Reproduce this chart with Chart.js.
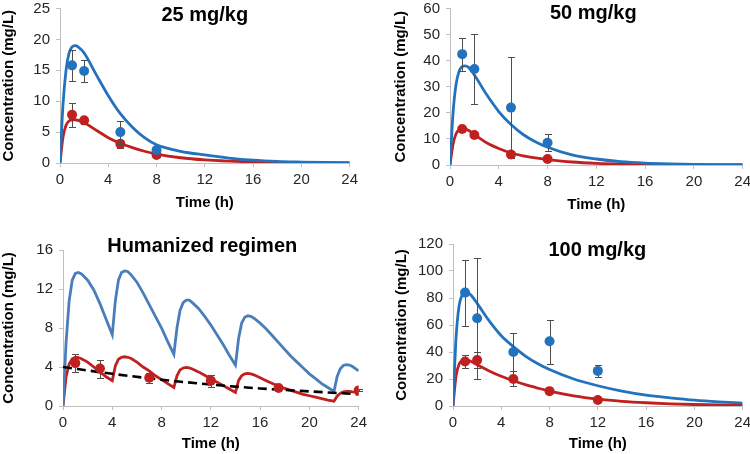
<!DOCTYPE html>
<html>
<head>
<meta charset="utf-8">
<script src="https://cdn.jsdelivr.net/npm/chart.js@4/dist/chart.umd.min.js"></script>
<style>
body { margin: 0; background: #fff; }
#wrap { position: relative; width: 750px; height: 454px; overflow: hidden; }
canvas { position: absolute; }
</style>
</head>
<body>
<div id="wrap">
  <canvas id="c25" width="363" height="220" style="left:0;top:-5px"></canvas>
  <canvas id="c50" width="381" height="220" style="left:375px;top:-5px"></canvas>
  <canvas id="cHum" width="372" height="224" style="left:0;top:230px"></canvas>
  <canvas id="c100" width="381" height="224" style="left:375px;top:230px"></canvas>
</div>
<script>
// model curves (single dose panels), sampled in hours
var pkTime = [0, 0.25, 0.5, 0.75, 1, 1.25, 1.5, 2, 3, 4, 5, 6, 7, 8, 10, 12, 14, 16, 18, 20, 22, 24];

var blue25 = [0, 9.5, 15, 17.8, 18.8, 19.0, 18.8, 17.8, 14.3, 10.9, 8.0, 5.8, 4.1, 2.95, 1.9, 1.3, 0.8, 0.45, 0.25, 0.15, 0.08, 0.05];
var red25 = [0, 4.2, 6.1, 6.8, 7.0, 7.0, 6.9, 6.5, 5.3, 4.1, 3.2, 2.5, 1.9, 1.45, 0.85, 0.5, 0.3, 0.17, 0.1, 0.06, 0.03, 0.02];
var blue50 = [0, 20, 31, 36, 37.8, 38, 37.5, 34.5, 27, 20.5, 15.5, 11.7, 8.9, 6.8, 3.9, 2.3, 1.3, 0.75, 0.45, 0.27, 0.16, 0.1];
var red50 = [0, 8, 12, 13.5, 13.9, 13.8, 13.3, 11.7, 8.5, 6.3, 4.6, 3.5, 2.7, 2.1, 1.15, 0.62, 0.34, 0.19, 0.1, 0.06, 0.03, 0.02];
var blue100 = [0, 50, 74, 82, 84.5, 84, 82, 76, 63, 52, 44, 37, 31.5, 27, 20, 15, 11, 8, 6, 4.3, 3.1, 2.2];
var red100 = [0, 22, 31, 33.5, 34, 33.5, 33, 30.5, 26, 22, 18.7, 15.8, 13.3, 11, 7.5, 5.1, 3.5, 2.4, 1.6, 1.1, 0.75, 0.5];

// observed means and error bar ends
var obsTime = [1, 2, 5, 8];
var blue25Obs = [15.8, 14.9, 5.0, 2.1];
var blue25Lo = [13.3, 13.1, 3.1, 1.8];
var blue25Hi = [18.3, 16.6, 6.8, 2.4];
var red25Obs = [7.8, 6.9, 3.1, 1.3];
var red25Lo = [5.9, 6.3, 2.4, 1.0];
var red25Hi = [9.7, 7.5, 3.7, 1.6];

var blue50Obs = [42.5, 36.8, 22, 8.5];
var blue50Lo = [36, 23.2, 3, 5.3];
var blue50Hi = [48.8, 50.3, 41.3, 12];
var red50Obs = [13.8, 11.5, 4.0, 2.3];
var red50Lo = [13, 10.8, 2.8, 2.0];
var red50Hi = [14.6, 12.2, 5.2, 2.6];

var obsTime100 = [1, 2, 5, 8, 12];
var blue100Obs = [84, 65, 40, 48, 26];
var blue100Lo = [59, 20, 26, 31, 21.5];
var blue100Hi = [108, 110, 54, 64, 30.5];
var red100Obs = [33, 34, 20, 11, 4.5];
var red100Lo = [28, 28, 15, 10, 4];
var red100Hi = [38, 40, 26, 12, 5];

// humanized regimen
var humTime = [0, 0.25, 0.5, 0.75, 1, 1.25, 1.5, 2, 2.5, 3, 3.5, 4,
  4.25, 4.5, 4.75, 5, 5.25, 5.5, 6, 6.5, 7, 7.5, 8, 8.5, 9,
  9.25, 9.5, 9.75, 10, 10.25, 10.5, 11, 11.5, 12, 12.5, 13, 13.5, 14,
  14.25, 14.5, 14.75, 15, 15.25, 15.5, 16, 16.5, 17, 17.5, 18, 18.5, 19, 19.5, 20, 20.5, 21, 21.5, 22,
  22.25, 22.5, 22.75, 23, 23.25, 23.5, 24];
var humBlue = [0, 6.5, 10.8, 12.9, 13.6, 13.7, 13.55, 12.9, 11.9, 10.5, 8.9, 7.3,
  10.8, 12.9, 13.7, 13.85, 13.8, 13.5, 12.7, 11.6, 10.4, 9.2, 8.0, 6.6, 5.3,
  8.0, 9.8, 10.6, 10.85, 10.85, 10.6, 10.0, 9.2, 8.3, 7.3, 6.3, 5.2, 4.2,
  6.9, 8.5, 9.1, 9.25, 9.2, 9.0, 8.5, 7.9, 7.2, 6.5, 5.8, 5.1, 4.5, 3.9, 3.3, 2.8, 2.3, 1.9, 1.5,
  3.0, 3.8, 4.15, 4.25, 4.2, 4.05, 3.6];
var humRed = [0, 3.0, 4.3, 4.85, 5.0, 4.95, 4.85, 4.5, 4.0, 3.5, 3.0, 2.6,
  4.1, 4.8, 5.0, 5.05, 5.0, 4.9, 4.5, 4.0, 3.6, 3.1, 2.7, 2.3, 1.9,
  3.1, 3.7, 3.9, 3.95, 3.9, 3.8, 3.5, 3.15, 2.8, 2.45, 2.1, 1.75, 1.4,
  2.6, 3.1, 3.3, 3.35, 3.3, 3.2, 2.9, 2.6, 2.3, 2.05, 1.8, 1.6, 1.4, 1.2, 1.05, 0.9, 0.75, 0.6, 0.5,
  1.0, 1.3, 1.45, 1.5, 1.5, 1.45, 1.4];
var humTrendTime = [0, 4, 8, 12, 16, 20, 24];
var humTrend = [4.0, 3.3, 2.7, 2.2, 1.8, 1.5, 1.2];
var humObsTime = [1, 3, 7, 12, 17.5, 24];
var humObs = [4.4, 3.85, 2.9, 2.6, 1.85, 1.6];
var humLo = [3.5, 2.9, 2.4, 2.0, 1.75, 1.5];
var humHi = [5.3, 4.75, 3.4, 3.2, 1.95, 1.7];

var BLUE = '#2372bd';
var STEEL = '#4a7ebb';
var RED = '#c0201f';
var AXIS = '#bfbfbf';

Chart.defaults.font.family = "'Liberation Sans', Arial, sans-serif";
Chart.defaults.color = '#262626';

function pts(xs, ys) {
  return xs.map(function (x, i) { return { x: x, y: ys[i] }; });
}

function curve(xs, ys, color, smooth) {
  return {
    data: pts(xs, ys), showLine: true, borderColor: color, borderWidth: 2.8,
    pointRadius: 0, cubicInterpolationMode: smooth ? 'monotone' : 'default', tension: 0, order: 1
  };
}

function obs(xs, ys, lo, hi, color) {
  return {
    data: pts(xs, ys), showLine: false, pointRadius: 5, pointBackgroundColor: color,
    pointBorderWidth: 0, errLow: lo, errHigh: hi, order: 0
  };
}

// draws vertical error bars right before the points of the same dataset
var errorBars = {
  id: 'errorBars',
  beforeDatasetDraw: function (chart, args) {
    var ds = chart.data.datasets[args.index];
    if (!ds.errLow) return;
    var xs = chart.scales.x, ys = chart.scales.y, ctx = chart.ctx;
    ctx.save();
    ctx.strokeStyle = '#4d4d4d';
    ctx.lineWidth = 1;
    ds.data.forEach(function (p, i) {
      var x = Math.round(xs.getPixelForValue(p.x)) + 0.5;
      var yl = Math.round(ys.getPixelForValue(ds.errLow[i])) + 0.5;
      var yh = Math.round(ys.getPixelForValue(ds.errHigh[i])) + 0.5;
      ctx.beginPath();
      ctx.moveTo(x, yl); ctx.lineTo(x, yh);
      ctx.moveTo(x - 3.5, yl); ctx.lineTo(x + 3.5, yl);
      ctx.moveTo(x - 3.5, yh); ctx.lineTo(x + 3.5, yh);
      ctx.stroke();
    });
    ctx.restore();
  }
};

var panelTitle = {
  id: 'panelTitle',
  afterDraw: function (chart, args, opts) {
    var ctx = chart.ctx;
    ctx.save();
    ctx.font = "bold 20px 'Liberation Sans', Arial, sans-serif";
    ctx.fillStyle = '#000';
    ctx.textAlign = 'center';
    ctx.textBaseline = 'middle';
    ctx.fillText(opts.text, chart.scales.x.getPixelForValue(opts.at), chart.chartArea.top + opts.dy);
    ctx.restore();
  }
};

function makeChart(id, o) {
  return new Chart(document.getElementById(id), {
    type: 'scatter',
    data: { datasets: o.datasets },
    plugins: [errorBars, panelTitle],
    options: {
      responsive: false,
      animation: false,
      events: [],
      layout: { padding: o.padding },
      plugins: {
        legend: { display: false },
        tooltip: { enabled: false },
        panelTitle: { text: o.title, at: o.titleAt, dy: o.titleDy }
      },
      scales: {
        x: {
          type: 'linear', min: 0, max: 24,
          ticks: { stepSize: 4, padding: 5, font: { size: 15, lineHeight: 1 } },
          grid: { drawOnChartArea: false, tickLength: 4, color: AXIS },
          border: { color: AXIS },
          title: { display: true, text: 'Time (h)', color: '#000', font: { size: 15, weight: 'bold' }, padding: { top: 0, bottom: o.xTitlePad } },
          afterFit: function (s) { s.height = o.xHeight; }
        },
        y: {
          min: 0, max: o.yMax,
          ticks: { stepSize: o.yStep, padding: 6, font: { size: 15, lineHeight: 1 } },
          grid: { drawOnChartArea: false, tickLength: 4, color: AXIS },
          border: { color: AXIS },
          title: { display: true, text: 'Concentration (mg/L)', color: '#000', font: { size: 15, weight: 'bold' }, padding: { top: o.yTitlePad, bottom: 0 } },
          afterFit: function (s) { s.width = o.yWidth; }
        }
      }
    }
  });
}

makeChart('c25', {
  title: '25 mg/kg', titleAt: 12, titleDy: 7,
  yMax: 25, yStep: 5, yWidth: 60, yTitlePad: 0, xHeight: 52, xTitlePad: 3,
  padding: { top: 0, right: 0, left: 0, bottom: 0 },
  datasets: [
    curve(pkTime, blue25, BLUE, true), curve(pkTime, red25, RED, true),
    obs(obsTime, blue25Obs, blue25Lo, blue25Hi, BLUE), obs(obsTime, red25Obs, red25Lo, red25Hi, RED)
  ]
});

makeChart('c50', {
  title: '50 mg/kg', titleAt: 11.75, titleDy: 5,
  yMax: 60, yStep: 10, yWidth: 75, yTitlePad: 17, xHeight: 50, xTitlePad: 1,
  padding: { top: 0, right: 0, left: 0, bottom: 0 },
  datasets: [
    curve(pkTime, blue50, BLUE, true), curve(pkTime, red50, RED, true),
    obs(obsTime, blue50Obs, blue50Lo, blue50Hi, BLUE), obs(obsTime, red50Obs, red50Lo, red50Hi, RED)
  ]
});

var trend = curve(humTrendTime, humTrend, '#000', true);
trend.borderDash = [9, 5];
trend.borderWidth = 2.6;
trend.order = 0.5;

makeChart('cHum', {
  title: 'Humanized regimen', titleAt: 11.3, titleDy: -4,
  yMax: 16, yStep: 4, yWidth: 63, yTitlePad: 0, xHeight: 48, xTitlePad: 1,
  padding: { top: 20, right: 0, left: 0, bottom: 0 },
  datasets: [
    curve(humTime, humBlue, STEEL, false), curve(humTime, humRed, RED, false), trend,
    obs(humObsTime, humObs, humLo, humHi, RED)
  ]
});

makeChart('c100', {
  title: '100 mg/kg', titleAt: 11.96, titleDy: 6,
  yMax: 120, yStep: 20, yWidth: 78, yTitlePad: 18, xHeight: 48, xTitlePad: 1,
  padding: { top: 14, right: 0, left: 0, bottom: 0 },
  datasets: [
    curve(pkTime, blue100, BLUE, true), curve(pkTime, red100, RED, true),
    obs(obsTime100, blue100Obs, blue100Lo, blue100Hi, BLUE), obs(obsTime100, red100Obs, red100Lo, red100Hi, RED)
  ]
});
</script>
</body>
</html>
